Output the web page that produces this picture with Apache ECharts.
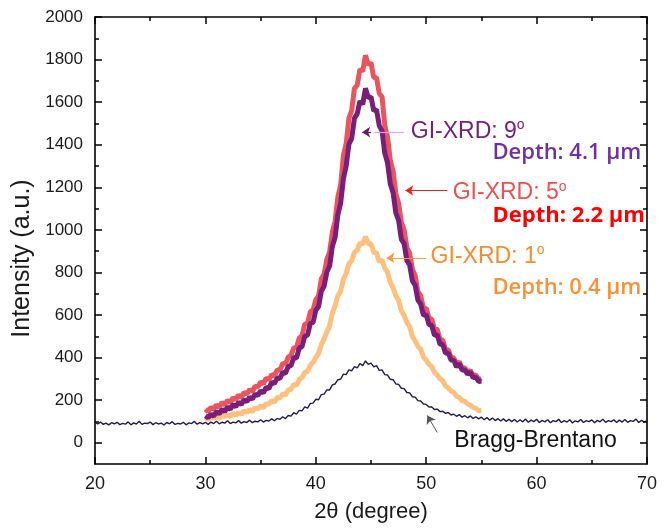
<!DOCTYPE html>
<html><head><meta charset="utf-8">
<script src="https://cdn.jsdelivr.net/npm/echarts@6/dist/echarts.min.js"></script>
<style>html,body{margin:0;padding:0;background:#fff}#c{width:671px;height:532px}</style>
</head><body><div id="c"></div>
<script>
// ---- data (2θ sampled every 0.25°) ----
const stepDeg = 0.25;
const bbStart = 20;   // Bragg-Brentano scan starts at 20°
const giStart = 30;   // GI-XRD scans start at 30°

// Bragg-Brentano, 20° .. 70°
const braggBrentano = [
  95,88,97,86, 92,84,94,89, 96,85,91,87, 98,84,93,88, 101,86,92,90,
  97,85,94,88, 92,83,95,89, 99,86,91,88, 96,84,93,90, 100,87,94,89,
  96,86,97,90, 101,89,96,92, 103,90,97,93, 104,92,99,95, 106,94,101,98,
  108,97,105,102, 112,103,114,110, 122,113,128,125, 141,134,152,150, 168,162,184,186,
  204,202,226,228, 248,248,272,276, 296,298,322,320, 342,338,358,352, 372,362,384,368,
  374,356,362,340, 342,320,318,298, 296,276,274,256, 254,236,234,216, 214,198,196,182,
  180,168,168,156, 158,146,148,138, 142,130,134,124, 132,120,127,117, 126,114,122,112,
  120,108,118,106, 116,104,113,102, 112,100,110,99, 109,97,108,98, 111,96,106,99,
  110,95,105,98, 108,94,104,99, 110,95,104,97, 108,93,103,98, 109,95,104,99,
  107,94,105,98, 110,96,104,99, 108,95,106,97, 109,96,104,100, 111,95,105,98,
  104
];
// GI-XRD 1°, 30° .. 55°
const giXrd1 = [
  118,108,122,114, 124,114,130,122, 132,122,138,130, 142,132,150,142, 156,146,164,158,
  174,164,184,180, 198,190,212,210, 230,224,248,250, 274,270,298,306, 330,336,364,378,
  400,420,460,488, 520,550,610,645, 690,712,768,795, 840,855,895,905, 938,932,968,935,
  935,895,892,850, 860,820,800,752, 728,690,668,620, 598,565,545,500, 478,452,440,402,
  388,368,358,330, 318,300,292,266, 258,242,236,218, 212,198,194,182, 176,165,162,150,
  152
];
// GI-XRD 5°, 30° .. 55°
const giXrd5 = [
  158,146,166,157, 178,166,189,178, 199,188,211,203, 224,212,236,228, 250,240,266,262,
  286,276,304,296, 320,314,342,340, 372,370,402,410, 445,448,492,502, 558,560,615,622,
  672,690,770,792, 862,895,990,1040, 1155,1210,1350,1405, 1525,1560,1665,1680, 1755,1745,1820,1775,
  1785,1715,1715,1640, 1625,1490,1435,1325, 1275,1170,1125,1035, 1000,915,890,815, 785,710,690,630,
  632,585,580,535, 532,485,482,438, 436,400,398,370, 380,350,352,330, 340,315,318,296,
  303
];
// GI-XRD 9°, 30° .. 55°
const giXrd9 = [
  127,117,134,124, 147,136,156,146, 168,157,179,169, 190,180,201,193, 213,205,228,222,
  244,234,260,254, 284,278,304,302, 330,326,358,362, 400,398,445,452, 500,505,560,565,
  622,640,712,735, 802,830,922,965, 1072,1125,1240,1300, 1402,1430,1525,1545, 1605,1590,1665,1620,
  1625,1560,1565,1490, 1465,1360,1315,1215, 1175,1080,1045,955, 935,855,835,760, 740,670,652,598,
  602,555,552,505, 508,462,462,420, 422,388,386,356, 372,342,342,322, 332,306,308,288,
  290
];

// axis ranges and ticks
const xMin = 20, xMax = 70, xStep = 10;
const yMin = -100, yMax = 2000;
const xMajorTicks = [20, 30, 40, 50, 60, 70];
const xMinorTicks = [25, 35, 45, 55, 65];
const yTickValues = [0,200,400,600,800,1000,1200,1400,1600,1800,2000];
const yMinorTickValues = [100,300,500,700,900,1100,1300,1500,1700,1900];

// annotation texts
const labels = {
  gi9: 'GI-XRD: 9', gi5: 'GI-XRD: 5', gi1: 'GI-XRD: 1',
  d9: 'Depth: 4.1 μm', d5: 'Depth: 2.2 μm', d1: 'Depth: 0.4 μm',
  bb: 'Bragg-Brentano'
};

// ---- build ----
const W = 671, H = 532;
const gridBox = { left: 95, right: 24, top: 17, bottom: 68 };
const xPerPx = (xMax - xMin) / (W - gridBox.left - gridBox.right);
const yPerPx = (yMax - yMin) / (H - gridBox.top - gridBox.bottom);

const toPairs = (arr, x0) => arr.map((v, i) => [x0 + i * stepDeg, v]);
const FONT = 'Liberation Sans, Arial, sans-serif';
const DEPTH_FONT = 'Open Sans, sans-serif';

const C = {
  bb: '#241a4f', gi1: '#fec07f', gi5: '#e8555f', gi9: '#7a1f79',
  t9: '#76207a', d9: '#7030a0', t5: '#ef4f50', d5: '#ff0000', t1: '#fa8a2e', d1: '#fb9136'
};

function giLabel(text, color) {
  return {
    show: true, position: 'right', distance: 0,
    formatter: '{a|' + text + '}{s|o}',
    rich: {
      a: { fontFamily: FONT, fontSize: 23, color: color, lineHeight: 26 },
      s: { fontFamily: FONT, fontSize: 14, color: color, lineHeight: 26, verticalAlign: 'top', padding: [0, 0, 10, 0] }
    }
  };
}
function depthLabel(text, color, weight) {
  return {
    show: true, position: 'right', distance: 0, formatter: text,
    fontFamily: DEPTH_FONT, fontSize: 22, fontWeight: weight, color: color
  };
}
function textPoint(coord, label) {
  return { coord: coord, symbol: 'rect', symbolSize: 0, label: label };
}

// inward tick marks on all four sides (as mark lines in axis units)
function tickMarks() {
  const out = [];
  const addX = (vals, px) => vals.forEach(v => {
    out.push([{ coord: [v, yMin] }, { coord: [v, yMin + px * yPerPx] }]);
    out.push([{ coord: [v, yMax] }, { coord: [v, yMax - px * yPerPx] }]);
  });
  const addY = (vals, px) => vals.forEach(v => {
    out.push([{ coord: [xMin, v] }, { coord: [xMin + px * xPerPx, v] }]);
    out.push([{ coord: [xMax, v] }, { coord: [xMax - px * xPerPx, v] }]);
  });
  addX(xMajorTicks, 7); addX(xMinorTicks, 4);
  addY(yTickValues, 7); addY(yMinorTickValues, 4);
  return out;
}

const axisLineStyle = () => ({ color: '#000', width: 1.6 });
const plainNum = v => String(v);

const option = {
  animation: false,
  grid: gridBox,
  xAxis: [
    {
      type: 'value', min: xMin, max: xMax, interval: xStep, position: 'bottom',
      axisLine: { show: true, onZero: false, lineStyle: axisLineStyle() },
      axisTick: { show: false }, splitLine: { show: false },
      axisLabel: { show: true, fontFamily: FONT, fontSize: 18, color: '#1a1a1a', margin: 11, formatter: plainNum },
      name: '2θ (degree)', nameLocation: 'middle', nameGap: 37,
      nameTextStyle: { fontFamily: FONT, fontSize: 22, color: '#1a1a1a' }
    },
    {
      type: 'value', min: xMin, max: xMax, interval: xStep, position: 'top',
      axisLine: { show: true, onZero: false, lineStyle: axisLineStyle() },
      axisTick: { show: false }, splitLine: { show: false }, axisLabel: { show: false }
    }
  ],
  yAxis: [
    {
      type: 'value', min: yMin, max: yMax, position: 'left',
      axisLine: { show: true, onZero: false, lineStyle: axisLineStyle() },
      axisTick: { show: false }, splitLine: { show: false },
      axisLabel: { show: true, fontFamily: FONT, fontSize: 17, color: '#1a1a1a', margin: 12, customValues: yTickValues, formatter: plainNum },
      name: 'Intensity (a.u.)', nameLocation: 'middle', nameGap: 46,
      nameTextStyle: { fontFamily: FONT, fontSize: 25, color: '#1a1a1a', padding: [0, 36, 0, 0] }
    },
    {
      type: 'value', min: yMin, max: yMax, position: 'right',
      axisLine: { show: true, onZero: false, lineStyle: axisLineStyle() },
      axisTick: { show: false }, splitLine: { show: false }, axisLabel: { show: false }
    }
  ],
  series: [
    {
      name: 'GI-XRD 5°', type: 'line', showSymbol: false, symbol: 'none', z: 2,
      data: toPairs(giXrd5, giStart),
      lineStyle: { color: C.gi5, width: 5 },
      markLine: {
        silent: true, animation: false, symbol: ['none', 'arrow'], symbolSize: 8,
        label: { show: false },
        lineStyle: { color: '#ff1a1a', width: 1.2, type: 'solid' },
        data: [[{ coord: [51.9, 1185] }, { coord: [48.1, 1185] }]]
      },
      markPoint: {
        silent: true, animation: false,
        data: [
          textPoint([52.4, 1174], giLabel(labels.gi5, C.t5)),
          textPoint([56.0, 1064], depthLabel(labels.d5, C.d5, 'bold'))
        ]
      }
    },
    {
      name: 'GI-XRD 9°', type: 'line', showSymbol: false, symbol: 'none', z: 3,
      data: toPairs(giXrd9, giStart),
      lineStyle: { color: C.gi9, width: 5 },
      markLine: {
        silent: true, animation: false, symbol: ['none', 'arrow'], symbolSize: 8,
        label: { show: false },
        data: [
          [{ coord: [48.0, 1459], symbol: 'none', lineStyle: { color: '#e2a6df', width: 1.2, type: 'solid' } },
           { coord: [45.3, 1459], symbol: 'none' }],
          [{ coord: [45.0, 1459], lineStyle: { color: '#6a1670', width: 1.2, type: 'solid' } },
           { coord: [44.2, 1459] }]
        ]
      },
      markPoint: {
        silent: true, animation: false,
        data: [
          textPoint([48.6, 1463], giLabel(labels.gi9, C.t9)),
          textPoint([56.0, 1361], depthLabel(labels.d9, C.d9, 600))
        ]
      }
    },
    {
      name: 'GI-XRD 1°', type: 'line', showSymbol: false, symbol: 'none', z: 2,
      data: toPairs(giXrd1, giStart),
      lineStyle: { color: C.gi1, width: 5 },
      markLine: {
        silent: true, animation: false, symbol: ['none', 'arrow'], symbolSize: 8,
        label: { show: false },
        lineStyle: { color: '#fb9a45', width: 1.2, type: 'solid' },
        data: [[{ coord: [50.0, 868] }, { coord: [46.4, 868] }]]
      },
      markPoint: {
        silent: true, animation: false,
        data: [
          textPoint([50.4, 876], giLabel(labels.gi1, C.t1)),
          textPoint([56.0, 728], depthLabel(labels.d1, C.d1, 600))
        ]
      }
    },
    {
      name: 'Bragg-Brentano', type: 'line', showSymbol: false, symbol: 'none', z: 4,
      data: toPairs(braggBrentano, bbStart),
      lineStyle: { color: C.bb, width: 1.4 },
      markLine: {
        silent: true, animation: false, symbol: ['none', 'arrow'], symbolSize: 8,
        label: { show: false },
        lineStyle: { color: '#555', width: 1, type: 'solid' },
        data: [[{ coord: [51.0, 48] }, { coord: [50.1, 128] }]]
      },
      markPoint: {
        silent: true, animation: false,
        data: [
          textPoint([52.55, 8], { show: true, position: 'right', distance: 0, formatter: labels.bb,
            fontFamily: FONT, fontSize: 23, color: '#111' })
        ]
      }
    },
    {
      name: 'ticks', type: 'line', showSymbol: false, symbol: 'none', z: 6, silent: true,
      data: [[xMin, yMin], [xMax, yMax]],
      lineStyle: { opacity: 0, width: 0 },
      markLine: {
        silent: true, animation: false, symbol: 'none',
        label: { show: false },
        lineStyle: { color: '#000', width: 1.5, type: 'solid' },
        data: tickMarks()
      }
    }
  ]
};

const chart = echarts.init(document.getElementById('c'), null, { renderer: 'canvas' });
chart.setOption(option);
</script>
</body></html>
